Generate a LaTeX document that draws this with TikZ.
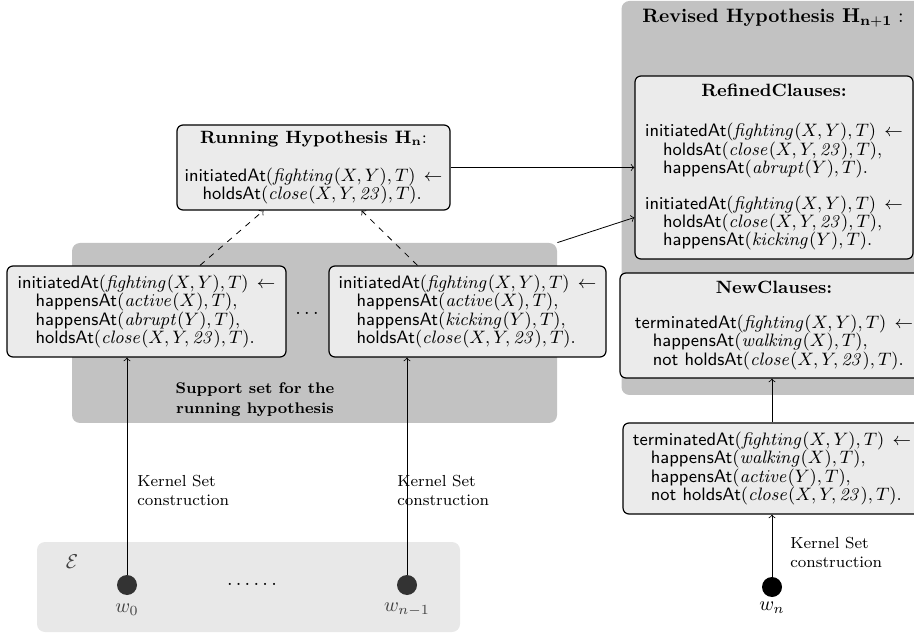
\documentclass[tikz,border=0pt]{standalone}
\usepackage{amsmath}
\usetikzlibrary{positioning, calc}

\newcommand{\pred}[1]{\textsf{#1}}
\newcommand{\ind}{\hspace*{1em}}
\newcommand{\cls}[1]{\vtop{\fontsize{9}{9.1}\selectfont\baselineskip=9.1pt\lineskiplimit=-20pt\let\\\cr\halign{##\hfil\cr#1\crcr}}}

\begin{document}
\begin{tikzpicture}[x=0.5pt, y=0.5pt, >=to]
    \tikzset{clausebox/.style={rectangle, rounded corners=3pt, draw=black, fill=black!8, semithick, align=center, inner sep=1pt, font=\fontsize{8.9}{11}\selectfont}}
    \tikzset{groupbg/.style={rectangle, rounded corners=4pt, fill=black!24, inner sep=0pt}}
    \tikzset{world/.style={circle, fill=black!80, minimum size=10pt, inner sep=0pt}}
    \tikzset{kernellabel/.style={align=left, anchor=west, inner sep=0pt, font=\footnotesize}}

    \useasboundingbox (0,0) rectangle (914,637);

    % backgrounds
    \node[groupbg, minimum width=157pt, minimum height=197pt] (revised) at (778.5,439) {};
    \node[groupbg, minimum width=242.5pt, minimum height=90pt] (support) at (314.5,304) {};
    \node[rectangle, rounded corners=4pt, fill=black!9, minimum width=211.5pt, minimum height=45pt] (evidence) at (248.5,50) {};

    \node[font=\fontsize{9.7}{12}\selectfont] at (773,619) {\textbf{Revised Hypothesis $\mathbf{H_{n+1}}:$}};
    \node[align=center, font=\fontsize{7.7}{10}\selectfont] (supportlabel) at (255,237) {\textbf{Support set for the}\\\textbf{running hypothesis}};

    % running hypothesis
    \node[clausebox, minimum width=136.5pt, minimum height=42.5pt] (running) at (313.5,469.5) {%
        \textbf{Running Hypothesis $\mathbf{H_n}$}:\\[8pt]
        \cls{\pred{initiatedAt}$(\mathit{fighting}(X,Y),T)\,\leftarrow$\\
        \ind\pred{holdsAt}$(\mathit{close}(X,Y,\mathit{23}),T)$.}};

    % kernel sets
    \node[clausebox, minimum width=139.5pt, minimum height=45.5pt] (leftk) at (146.5,325.5) {%
        \cls{\pred{initiatedAt}$(\mathit{fighting}(X,Y),T)\,\leftarrow$\\
        \ind\pred{happensAt}$(\mathit{active}(X),T)$,\\
        \ind\pred{happensAt}$(\mathit{abrupt}(Y),T)$,\\
        \ind\pred{holdsAt}$(\mathit{close}(X,Y,\mathit{23}),T)$.}};
    \node[clausebox, minimum width=138.5pt, minimum height=45.5pt] (rightk) at (467.5,325.5) {%
        \cls{\pred{initiatedAt}$(\mathit{fighting}(X,Y),T)\,\leftarrow$\\
        \ind\pred{happensAt}$(\mathit{active}(X),T)$,\\
        \ind\pred{happensAt}$(\mathit{kicking}(Y),T)$,\\
        \ind\pred{holdsAt}$(\mathit{close}(X,Y,\mathit{23}),T)$.}};
    \node (kdots) at (307,324) {$\ldots$};

    % revised hypothesis
    \node[clausebox, minimum width=139pt, minimum height=91.5pt] (refined) at (774,469.5) {%
        \textbf{RefinedClauses:}\\[9pt]
        \cls{\pred{initiatedAt}$(\mathit{fighting}(X,Y),T)\,\leftarrow$\\
        \ind\pred{holdsAt}$(\mathit{close}(X,Y,\mathit{23}),T)$,\\
        \ind\pred{happensAt}$(\mathit{abrupt}(Y),T)$.\\\noalign{\vskip9pt}
        \pred{initiatedAt}$(\mathit{fighting}(X,Y),T)\,\leftarrow$\\
        \ind\pred{holdsAt}$(\mathit{close}(X,Y,\mathit{23}),T)$,\\
        \ind\pred{happensAt}$(\mathit{kicking}(Y),T)$.}};
    \node[clausebox, minimum width=154pt, minimum height=52.5pt] (newcl) at (774,311.5) {%
        \textbf{NewClauses:}\\[6.5pt]
        \cls{\pred{terminatedAt}$(\mathit{fighting}(X,Y),T)\,\leftarrow$\\
        \ind\pred{happensAt}$(\mathit{walking}(X),T)$,\\
        \ind\pred{not holdsAt}$(\mathit{close}(X,Y,\mathit{23}),T)$.}};
    \node[clausebox, minimum width=149pt, minimum height=45.5pt] (termk) at (772,168.5) {%
        \cls{\pred{terminatedAt}$(\mathit{fighting}(X,Y),T)\,\leftarrow$\\
        \ind\pred{happensAt}$(\mathit{walking}(X),T)$,\\
        \ind\pred{happensAt}$(\mathit{active}(Y),T)$,\\
        \ind\pred{not holdsAt}$(\mathit{close}(X,Y,\mathit{23}),T)$.}};

    % windows
    \node[text=black!75] (elabel) at (72,75) {$\mathcal{E}$};
    \node[world] (w0) at (127,52) {};
    \node[world] (wlast) at (407,52) {};
    \node[world, fill=black] (wn) at (772,50) {};
    \node[text=black!75] at (127,27) {$w_0$};
    \node[text=black!75] at (407,27) {$w_{n-1}$};
    \node at (772,29) {$w_n$};
    \node (wdots) at (252,53) {$\ldots\ldots$};

    \node[kernellabel] at (137,147) {Kernel Set\\construction};
    \node[kernellabel] at (397,147) {Kernel Set\\construction};
    \node[kernellabel] at (790,85) {Kernel Set\\construction};

    % connectors
    \draw[->] (w0) -- (w0 |- leftk.south);
    \draw[->] (wlast) -- (wlast |- rightk.south);
    \draw[->] (wn) -- (wn |- termk.south);
    \draw[->] (termk.north) -- (termk.north |- newcl.south);
    \draw[->, dashed] ([xshift=26.75pt]leftk.north) -- ([xshift=-25pt]running.south);
    \draw[->, dashed] ([xshift=-25pt]rightk.north) -- ([xshift=24pt]running.south);
    \draw[->] (running.east) -- (refined.west |- running.east);
    \draw[->] (support.north east) -- ([yshift=-25pt]refined.west);
\end{tikzpicture}
\end{document}
